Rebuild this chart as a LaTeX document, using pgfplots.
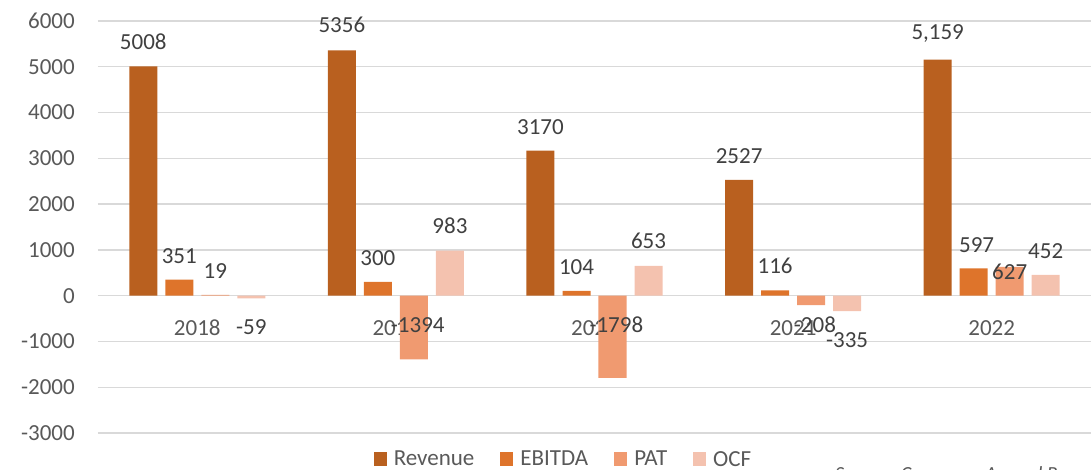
\documentclass[border=0pt]{standalone}
\usepackage{fontspec}
\setmainfont{Carlito}
\usepackage{pgfplots}
\usepackage{pgfplotstable}
\pgfplotsset{compat=1.18}
\definecolor{rev}{HTML}{B9601F}
\definecolor{ebi}{HTML}{DE742B}
\definecolor{pat}{HTML}{F09A70}
\definecolor{ocf}{HTML}{F4C2AF}
\definecolor{gridc}{HTML}{D9D9D9}
\definecolor{tickc}{HTML}{595959}
\definecolor{labc}{HTML}{404040}

\pgfplotstableread{
x y
0 5008
1 5356
2 3170
3 2527
4 5159
}\revenue
\pgfplotstableread{
x y
0 351
1 300
2 104
3 116
4 597
}\ebitda
\pgfplotstableread{
x y
0 19
1 -1394
2 -1798
3 -208
4 627
}\pat
\pgfplotstableread{
x y
0 -59
1 983
2 653
3 -335
4 452
}\ocf
\pgfplotstableread{
x y label
-0.272 5549 5008
-0.0906 874 351
0.0906 546 19
0.272 -677 -59
0.728 5920 5356
0.9094 830 300
1.11 -634 -1394
1.272 1529 983
1.728 3692 3170
1.9094 634 104
2.11 -634 -1798
2.272 1201 653
2.728 3058 2527
2.9094 655 116
3.11 -634 -208
3.272 -961 -335
3.728 5723 5,159
3.924 1114 597
4.0906 524 627
4.272 983 452
}\labels

\begin{document}
\begin{tikzpicture}
\useasboundingbox (-98pt,-37pt) rectangle (993pt,433pt);
\begin{axis}[
  scale only axis, width=993pt, height=412pt,
  at={(0pt,0pt)}, anchor=south west,
  xmin=-0.5, xmax=4.5, ymin=-3000, ymax=6000,
  axis line style={draw=none},
  xtick={0,1,2,3,4}, xticklabels={2018,2019,2020,2021,2022},
  ytick={-3000,-2000,...,6000},
  ymajorgrids, grid style={gridc, line width=1.3pt},
  major tick length=0pt,
  tick label style={font=\fontsize{23}{27}\selectfont, text=tickc},
  /pgf/number format/assume math mode=true,
  /pgf/number format/set thousands separator={},
  yticklabel style={anchor=east, inner sep=0pt, xshift=-23pt},
  xticklabel style={anchor=center, inner sep=0pt, yshift=105pt},
  clip=false,
  legend columns=4,
  legend style={at={(axis description cs:0.4688,-0.0640)}, anchor=center,
    draw=none, fill=none, font=\fontsize{23}{27}\selectfont, text=tickc,
    /tikz/every odd column/.append style={column sep=5pt},
    /tikz/every even column/.append style={column sep=24pt}},
  legend image code/.code={\fill[#1] (0pt,-7pt) rectangle (13pt,7pt);},
]
\addplot[ybar, bar width=0.141, bar shift=-0.272, fill=rev, draw=none] table[x=x,y=y]{\revenue};
\addlegendentry{Revenue}
\addplot[ybar, bar width=0.141, bar shift=-0.0906, fill=ebi, draw=none] table[x=x,y=y]{\ebitda};
\addlegendentry{EBITDA}
\addplot[ybar, bar width=0.141, bar shift=0.0906, fill=pat, draw=none] table[x=x,y=y]{\pat};
\addlegendentry{PAT}
\addplot[ybar, bar width=0.141, bar shift=0.272, fill=ocf, draw=none] table[x=x,y=y]{\ocf};
\addlegendentry{OCF}
\addplot[forget plot, only marks, mark size=0pt, nodes near coords,
  point meta=explicit symbolic,
  nodes near coords style={anchor=center, inner sep=0pt, font=\fontsize{23}{27}\selectfont, text=labc}]
  table[x=x,y=y,meta=label]{\labels};
\end{axis}
\node[anchor=north west, inner sep=0pt, font=\fontsize{20}{24}\selectfont\itshape, text=tickc] at (737pt,-33pt) {Source: Company, Annual Report};
\end{tikzpicture}
\end{document}
